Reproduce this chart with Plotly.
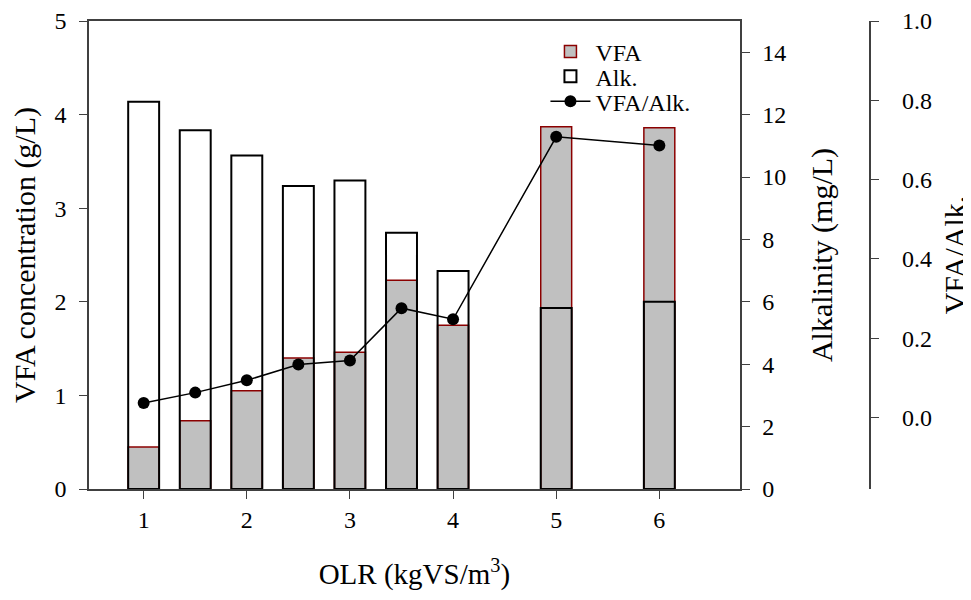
import plotly.graph_objects as go

# Data
olr = [1, 1.5, 2, 2.5, 3, 3.5, 4, 5, 6]
vfa = [0.45, 0.73, 1.05, 1.40, 1.46, 2.23, 1.75, 3.87, 3.86]          # g/L
alk = [12.41, 11.50, 10.69, 9.71, 9.89, 8.21, 6.99, 5.80, 6.00]      # mg/L
ratio = [0.037, 0.063, 0.094, 0.134, 0.144, 0.276, 0.248, 0.708, 0.686]
x_ticks = [1, 2, 3, 4, 5, 6]
y1_ticks = [0, 1, 2, 3, 4, 5]
y2_ticks = [0, 2, 4, 6, 8, 10, 12, 14]
y3_ticks = [0.0, 0.2, 0.4, 0.6, 0.8, 1.0]

FONT = "Liberation Serif"
AX = "#404040"

# the page body adds an 8px offset, so the figure is drawn 8px smaller
OFF = 8
W, H = 971 - OFF, 600 - OFF
plot_left, plot_right, plot_top, plot_bottom = 89 - OFF, 742 - OFF, 19 - OFF, 489 - OFF
L, R, T, B = plot_left, 0, plot_top, H - plot_bottom
paper_w = W - L - R
paper_h = H - T - B
y3_x = 873 - OFF


def px_x(px):
    return (px - OFF - L) / paper_w


def px_y(py):
    return 1 - (py - OFF - T) / paper_h


fig = go.Figure()
fig.add_trace(go.Bar(
    x=olr, y=vfa, name="VFA", width=0.3,
    marker=dict(color="#C0C0C0", line=dict(color="#8B0000", width=1.5)),
    yaxis="y", legend="legend",
))
fig.add_trace(go.Bar(
    x=olr, y=alk, name="Alk.", width=0.3,
    marker=dict(color="rgba(255,255,255,0)", line=dict(color="black", width=2)),
    yaxis="y2", legend="legend2",
))
fig.add_trace(go.Scatter(
    x=olr, y=ratio, name="VFA/Alk.", mode="lines+markers",
    line=dict(color="black", width=1.5),
    marker=dict(color="black", size=12),
    yaxis="y3", legend="legend3",
))

leg_common = dict(xanchor="left", yanchor="middle", bgcolor="rgba(0,0,0,0)",
                  font=dict(size=24, family=FONT), itemwidth=40)
leg_x = px_x(597 - 50)

axis_common = dict(
    ticks="outside", ticklen=8, tickwidth=1.2, tickcolor=AX,
    showline=True, linecolor=AX, linewidth=1.5,
    showgrid=False, zeroline=False,
    ticklabeloverflow="allow",
    tickfont=dict(size=24, family=FONT),
)

fig.update_layout(
    width=W, height=H,
    margin=dict(l=L, r=R, t=T, b=B),
    plot_bgcolor="white", paper_bgcolor="white",
    barmode="overlay",
    font=dict(family=FONT, size=24, color="black"),
    showlegend=True,
    legend=dict(x=leg_x, y=px_y(50), **leg_common),
    legend2=dict(x=leg_x, y=px_y(75), **leg_common),
    legend3=dict(x=leg_x, y=px_y(100), **leg_common),
    xaxis=dict(
        domain=[0, (plot_right - L) / paper_w],
        range=[0.47, 6.78],
        tickvals=x_ticks, mirror=True,
        title=dict(text="OLR (kgVS/m<sup>3</sup>)", font=dict(size=29, family=FONT), standoff=32),
        **axis_common,
    ),
    yaxis=dict(
        range=[0, 5], tickvals=y1_ticks,
        ticklabelstandoff=8,
        title=dict(text="VFA concentration (g/L)", font=dict(size=30, family=FONT), standoff=12),
        **axis_common,
    ),
    yaxis2=dict(
        range=[0, 15], tickvals=y2_ticks,
        overlaying="y", side="right", anchor="x",
        ticklabelstandoff=8,
        title=dict(text="Alkalinity (mg/L)", font=dict(size=30, family=FONT), standoff=26),
        **axis_common,
    ),
    yaxis3=dict(
        range=[-0.18, 1.0], tickvals=y3_ticks, tickformat=".1f",
        overlaying="y", side="right", anchor="free",
        position=(y3_x - L) / paper_w,
        ticklabelstandoff=18,
        title=dict(text="VFA/Alk.", font=dict(size=30, family=FONT), standoff=18),
        **axis_common,
    ),
)

fig.write_html("out.html")
